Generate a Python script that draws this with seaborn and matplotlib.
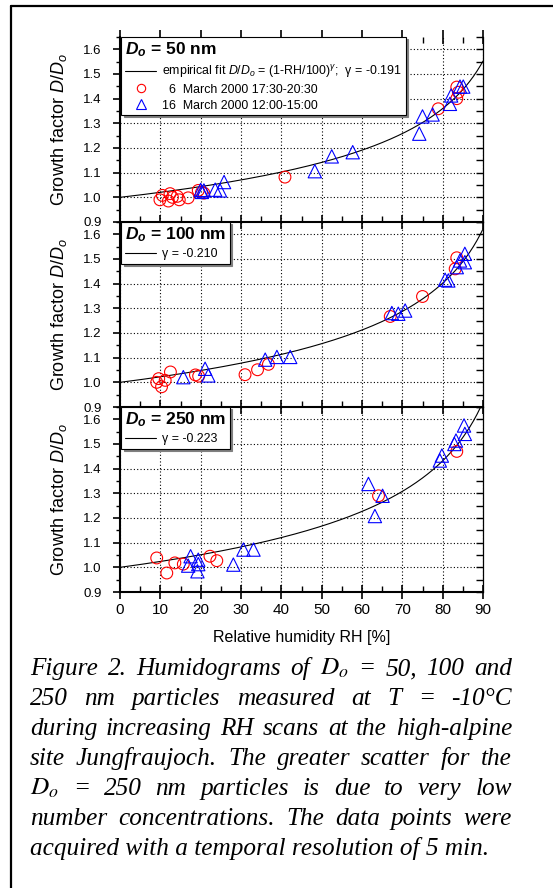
import numpy as np
import matplotlib
matplotlib.use('Agg')
import matplotlib.pyplot as plt
from matplotlib.lines import Line2D
from matplotlib.ticker import MultipleLocator, FormatStrFormatter
import seaborn as sns

# panels: particle dry diameter and fitted exponent
sizes_nm = [50, 100, 250]
gammas = [-0.191, -0.210, -0.223]

# 6 March 2000 17:30-20:30 (red circles)
rh_50_mar6 = [9.9, 10.5, 12.0, 12.4, 13.0, 14.2, 14.7, 16.9, 19.4, 20.2, 20.8, 40.9, 78.9, 83.5, 83.9, 83.5]
gf_50_mar6 = [0.99, 1.008, 0.985, 1.015, 1.0, 1.004, 0.99, 0.998, 1.028, 1.02, 1.017, 1.082, 1.359, 1.447, 1.426, 1.40]
rh_100_mar6 = [9.1, 9.6, 10.3, 11.2, 12.5, 18.7, 19.5, 31.0, 34.1, 36.8, 67.0, 75.0, 83.1, 83.5]
gf_100_mar6 = [1.0, 1.015, 0.982, 1.008, 1.042, 1.03, 1.025, 1.031, 1.051, 1.073, 1.267, 1.348, 1.46, 1.505]
rh_250_mar6 = [9.1, 11.6, 13.6, 15.7, 22.3, 24.0, 64.1, 83.5]
gf_250_mar6 = [1.038, 0.977, 1.018, 1.013, 1.045, 1.027, 1.29, 1.47]

# 16 March 2000 12:00-15:00 (blue triangles)
rh_50_mar16 = [20.0, 20.3, 20.8, 23.6, 24.8, 25.8, 48.3, 52.5, 57.7, 74.2, 75.0, 77.5, 81.8, 82.1, 84.3, 85.1]
gf_50_mar16 = [1.03, 1.022, 1.028, 1.031, 1.028, 1.062, 1.106, 1.166, 1.183, 1.258, 1.328, 1.336, 1.379, 1.413, 1.449, 1.449]
rh_100_mar16 = [15.7, 21.1, 21.9, 36.0, 38.9, 42.2, 67.4, 69.0, 70.7, 80.6, 81.4, 83.5, 84.3, 85.5, 85.5]
gf_100_mar16 = [1.021, 1.055, 1.028, 1.092, 1.103, 1.103, 1.281, 1.278, 1.291, 1.416, 1.413, 1.467, 1.494, 1.521, 1.487]
rh_250_mar16 = [16.9, 17.5, 19.2, 19.4, 19.4, 28.1, 30.6, 33.1, 61.6, 63.2, 65.1, 79.3, 79.8, 82.9, 83.3, 85.3, 85.5]
gf_250_mar16 = [1.007, 1.045, 0.984, 1.013, 1.031, 1.011, 1.072, 1.072, 1.338, 1.208, 1.29, 1.433, 1.453, 1.50, 1.514, 1.575, 1.541]

circles = [(rh_50_mar6, gf_50_mar6), (rh_100_mar6, gf_100_mar6), (rh_250_mar6, gf_250_mar6)]
triangles = [(rh_50_mar16, gf_50_mar16), (rh_100_mar16, gf_100_mar16), (rh_250_mar16, gf_250_mar16)]

caption_lines = [
    ['Figure', '2.', 'Humidograms', 'of', '$D_o$', '=', '50,', '100', 'and'],
    ['250', 'nm', 'particles', 'measured', 'at', 'T', '=', '-10\u00b0C'],
    ['during', 'increasing', 'RH', 'scans', 'at', 'the', 'high-alpine'],
    ['site', 'Jungfraujoch.', 'The', 'greater', 'scatter', 'for', 'the'],
    ['$D_o$', '=', '250', 'nm', 'particles', 'is', 'due', 'to', 'very', 'low'],
    ['number', 'concentrations.', 'The', 'data', 'points', 'were'],
    ['acquired with a temporal resolution of 5 min.'],
]

sns.set_style('ticks', {'axes.edgecolor': 'k', 'xtick.color': 'k', 'ytick.color': 'k',
                        'text.color': 'k', 'axes.labelcolor': 'k'})
plt.rcParams['font.family'] = ['Liberation Sans', 'DejaVu Sans']
plt.rcParams['mathtext.fontset'] = 'custom'
plt.rcParams['mathtext.rm'] = 'Liberation Sans'
plt.rcParams['mathtext.it'] = 'Liberation Sans:italic'
plt.rcParams['mathtext.bf'] = 'Liberation Sans:bold'
plt.rcParams['mathtext.bfit'] = 'Liberation Sans:italic:bold'

W, H = 553, 888
fig = plt.figure(figsize=(W / 100, H / 100), dpi=100)

# frame around the figure (only left and top edges visible)
fig.add_artist(Line2D([11 / W, 11 / W], [0, 1 - 6 / H], color='k', lw=1.6))
fig.add_artist(Line2D([11 / W, 1], [1 - 6 / H, 1 - 6 / H], color='k', lw=1.6))

left, right = 120 / W, 483 / W
top, bottom = 1 - 37 / H, 1 - 592 / H
ph = (top - bottom) / 3

rh_fit = np.linspace(0, 90, 300)

for i in range(3):
    ax = fig.add_axes([left, top - (i + 1) * ph, right - left, ph])
    ax.set_facecolor('none')
    g = gammas[i]
    sns.lineplot(x=rh_fit, y=(1 - rh_fit / 100) ** g, color='k', lw=0.8, ax=ax, zorder=2)
    rc, gc = circles[i]
    rt, gt = triangles[i]
    sns.scatterplot(x=rc, y=gc, marker='o', s=72, facecolor='none', edgecolor='red',
                    linewidth=0.8, ax=ax, zorder=3)
    sns.scatterplot(x=rt, y=gt, marker='^', s=92, facecolor='none', edgecolor='blue',
                    linewidth=0.8, ax=ax, zorder=3)

    ax.set_xlim(0, 90)
    ax.set_ylim(0.9, 1.65)
    ax.xaxis.set_major_locator(MultipleLocator(10))
    ax.xaxis.set_minor_locator(MultipleLocator(5))
    ax.yaxis.set_major_locator(MultipleLocator(0.1))
    ax.yaxis.set_minor_locator(MultipleLocator(0.05))
    ax.yaxis.set_major_formatter(FormatStrFormatter('%.1f'))
    ax.grid(True, which='major', color='k', ls=(0, (1, 2)), lw=0.8)

    ax.tick_params(axis='x', which='major', direction='inout', length=10, width=1.2,
                   top=(i == 0), labelbottom=(i == 2), labelsize=11, pad=3)
    ax.tick_params(axis='x', which='minor', direction='in', length=4, width=1.0, top=(i == 0))
    ax.tick_params(axis='y', which='major', direction='out', length=5, width=1.2,
                   labelsize=9.5, pad=8)
    ax.tick_params(axis='y', which='minor', direction='out', length=3, width=1.0)
    ax.spines['top'].set_visible(False)
    ax.spines['right'].set_visible(False)
    ax.spines['left'].set_linewidth(1.5)
    ax.spines['bottom'].set_linewidth(1.5)

    sec = ax.secondary_yaxis('right')
    sec.yaxis.set_major_locator(MultipleLocator(0.05))
    sec.tick_params(direction='in', length=5, width=1.0, labelright=False)
    sec.spines['right'].set_linewidth(0.9)

    ax.set_ylabel(r'Growth factor $D/D_o$', fontsize=13)
    ax.yaxis.set_label_coords(-0.14, 0.5)
    if i == 2:
        ax.set_xlabel('Relative humidity RH [%]', fontsize=11.5, labelpad=9)
    else:
        ax.set_xlabel('')

    fit_h = Line2D([], [], color='k', lw=0.8)
    title = r'$\mathbfit{D}_{\mathbfit{o}}$ = %d nm' % sizes_nm[i]
    gamma_txt = '\u03b3 = %.3f' % g
    if i == 0:
        c_h = Line2D([], [], marker='o', ls='none', mfc='none', mec='red', ms=6, mew=0.8)
        t_h = Line2D([], [], marker='^', ls='none', mfc='none', mec='blue', ms=6.5, mew=0.8)
        handles = [fit_h, c_h, t_h]
        labels = [r'empirical fit $D/D_o$ = (1-RH/100)$^{\gamma}$;  ' + gamma_txt,
                  '  6  March 2000 17:30-20:30', '16  March 2000 12:00-15:00']
    else:
        handles = [fit_h]
        labels = [gamma_txt]
    leg = ax.legend(handles, labels, title=title, loc='upper left', bbox_to_anchor=(0.004, 1.0),
                    borderaxespad=0, fontsize=8.9, title_fontproperties={'weight': 'bold', 'size': 12.5},
                    alignment='left', handlelength=2.5, handletextpad=0.5, labelspacing=0.3,
                    borderpad=0.3, fancybox=False, edgecolor='k', framealpha=1,
                    shadow={'ox': 1.5, 'oy': -1.5, 'color': '0.5', 'alpha': 1})
    leg.get_frame().set_linewidth(0.8)
    leg.set_zorder(6)

# justified caption
renderer = fig.canvas.get_renderer()
x0, x1 = 30, 512
cap_kw = dict(family='Liberation Serif', style='italic', fontsize=18.2, va='baseline',
              math_fontfamily='stix')
for k, words in enumerate(caption_lines):
    y = 1 - (675 + 30 * k) / H
    texts = [fig.text(0, y, w, **cap_kw) for w in words]
    widths = [t.get_window_extent(renderer).width for t in texts]
    gap = (x1 - x0 - sum(widths)) / (len(words) - 1) if len(words) > 1 else 0
    x = x0
    for t, w in zip(texts, widths):
        t.set_x(x / W)
        x += w + gap

fig.savefig('out.png', dpi=100)
